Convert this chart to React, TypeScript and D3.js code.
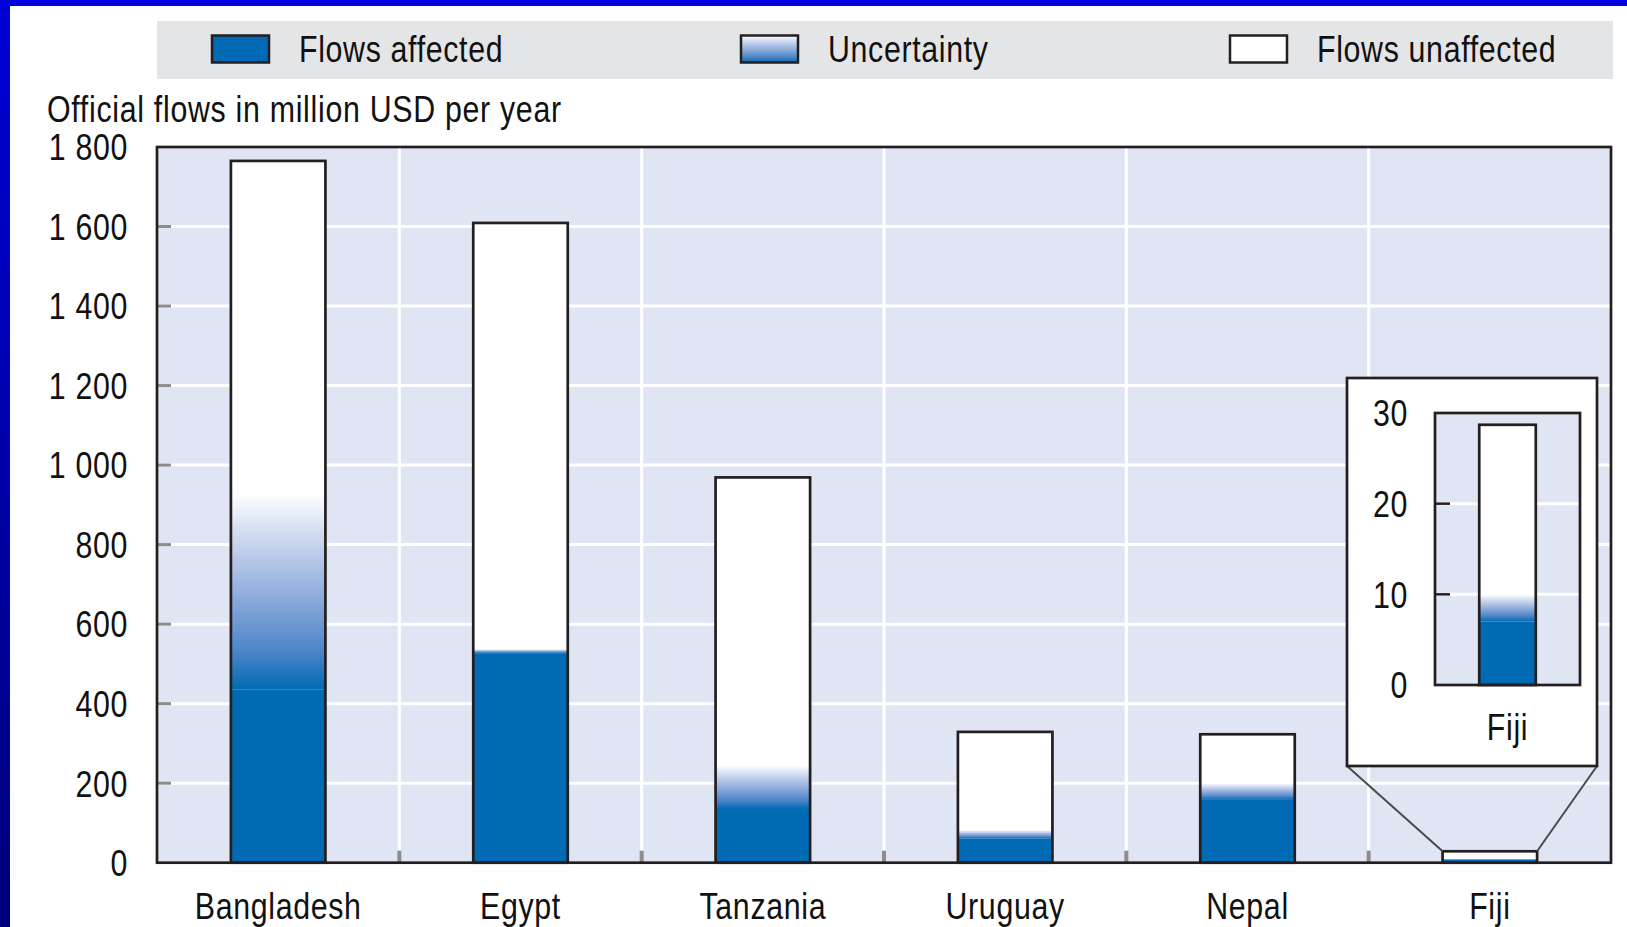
import React from "react";
import * as d3 from "d3";

const categories = ["Bangladesh", "Egypt", "Tanzania", "Uruguay", "Nepal", "Fiji"];
const flowsAffected = [435, 527, 135, 61, 158, 7];
const uncertainty = [495, 10, 110, 21, 42, 3];
const totalFlows = [1765, 1609, 969, 329, 323, 28.7];
const yTicks = [0, 200, 400, 600, 800, 1000, 1200, 1400, 1600, 1800];
const insetCategory = "Fiji";
const insetTicks = [0, 10, 20, 30];
const legendItems = ["Flows affected", "Uncertainty", "Flows unaffected"];
const yTitle = "Official flows in million USD per year";

const W = 1627;
const H = 927;
const FONT = "'Liberation Sans', Arimo, Arial, sans-serif";
const BLUE = "#006ab4";
const BG = "#dfe5f2";
const INK = "#231f20";
const NARROW = 0.82;

const fmt = d3.formatLocale({ decimal: ".", thousands: " ", grouping: [3], currency: ["", ""] }).format(",");

function Txt(props: {
  x: number;
  y: number;
  anchor?: string;
  dy?: string;
  size?: number;
  spacing?: number;
  children: React.ReactNode;
}) {
  const { x, y, anchor = "start", dy, size = 37, spacing = 0.8, children } = props;
  return (
    <text
      transform={`translate(${x},${y}) scale(${NARROW},1)`}
      textAnchor={anchor}
      dy={dy}
      fontSize={size}
      letterSpacing={spacing}
      fill="#111"
    >
      {children}
    </text>
  );
}

export default function App() {
  const plot = { left: 157, right: 1611, top: 147, bottom: 862.7 };
  const x = d3.scaleBand<string>().domain(categories).range([plot.left, plot.right]).paddingInner(0.61).paddingOuter(0.305);
  const y = d3.scaleLinear().domain([0, 1800]).range([plot.bottom, plot.top]);
  const step = x.step();
  const boundaries = categories.slice(1).map((c) => (x(c) as number) - (step - x.bandwidth()) / 2);

  const inset = { left: 1435, right: 1580, top: 413, bottom: 685 };
  const box = { left: 1347, right: 1597, top: 378, bottom: 766 };
  const xi = d3.scaleBand<string>().domain([insetCategory]).range([inset.left, inset.right]).paddingInner(0.61).paddingOuter(0.305);
  const yi = d3.scaleLinear().domain([0, 30]).range([inset.bottom, inset.top]);
  const fijiIdx = categories.indexOf(insetCategory);

  const bar = (
    key: string,
    bx: number,
    bw: number,
    ys: d3.ScaleLinear<number, number>,
    aff: number,
    unc: number,
    tot: number
  ) => (
    <g key={key}>
      <rect x={bx} y={ys(tot)} width={bw} height={ys(0) - ys(tot)} fill="#ffffff" />
      <rect x={bx} y={ys(aff + unc)} width={bw} height={ys(aff) - ys(aff + unc)} fill="url(#unc)" />
      <rect x={bx} y={ys(aff)} width={bw} height={ys(0) - ys(aff)} fill={BLUE} />
      <rect x={bx} y={ys(tot)} width={bw} height={ys(0) - ys(tot)} fill="none" stroke={INK} strokeWidth={2.7} />
    </g>
  );

  const legendX = [212, 741, 1230];

  return (
    <svg width={W} height={H} style={{ position: "absolute", left: 0, top: 0, background: "#fff" }} fontFamily={FONT}>
      <defs>
        <linearGradient id="unc" x1="0" y1="1" x2="0" y2="0">
          <stop offset="0" stopColor={BLUE} />
          <stop offset="0.2" stopColor="#4d86c8" />
          <stop offset="0.5" stopColor="#93afdd" />
          <stop offset="0.8" stopColor="#d3ddf1" />
          <stop offset="1" stopColor="#ffffff" />
        </linearGradient>
        <linearGradient id="frameL" x1="0" y1="0" x2="0" y2="1">
          <stop offset="0" stopColor="#0000d8" />
          <stop offset="1" stopColor="#00007a" />
        </linearGradient>
      </defs>

      {/* frame */}
      <rect x={0} y={0} width={W} height={6} fill="#0000e0" />
      <rect x={0} y={0} width={10} height={H} fill="url(#frameL)" />

      {/* legend */}
      <rect x={157} y={21} width={1456} height={58} fill="#e4e5e7" />
      {legendItems.map((t, i) => (
        <g key={t}>
          <rect
            x={legendX[i]}
            y={35.5}
            width={57}
            height={27}
            fill={i === 0 ? BLUE : i === 1 ? "url(#unc)" : "#ffffff"}
            stroke={INK}
            strokeWidth={2.5}
          />
          <Txt x={legendX[i] + 87} y={61.5}>
            {t}
          </Txt>
        </g>
      ))}

      {/* y title */}
      <Txt x={47} y={122} spacing={0.85}>
        {yTitle}
      </Txt>

      {/* plot background */}
      <rect x={plot.left} y={plot.top} width={plot.right - plot.left} height={plot.bottom - plot.top} fill={BG} />
      {yTicks.slice(1, -1).map((t) => (
        <line key={"g" + t} x1={plot.left} x2={plot.right} y1={y(t)} y2={y(t)} stroke="#fff" strokeWidth={3} />
      ))}
      {boundaries.map((b, i) => (
        <line key={"v" + i} x1={b} x2={b} y1={plot.top} y2={plot.bottom} stroke="#fff" strokeWidth={3} />
      ))}
      {yTicks.slice(1, -1).map((t) => (
        <line key={"t" + t} x1={plot.left} x2={plot.left + 14} y1={y(t)} y2={y(t)} stroke="#8c8c8c" strokeWidth={3} />
      ))}
      {boundaries.map((b, i) => (
        <line key={"xt" + i} x1={b} x2={b} y1={plot.bottom} y2={plot.bottom - 12} stroke="#8c8c8c" strokeWidth={4} />
      ))}

      {/* bars */}
      {categories.map((c, i) =>
        bar(c, x(c) as number, x.bandwidth(), y, flowsAffected[i], uncertainty[i], totalFlows[i])
      )}

      {/* plot frame */}
      <rect x={plot.left} y={plot.top} width={plot.right - plot.left} height={plot.bottom - plot.top} fill="none" stroke={INK} strokeWidth={2.7} />

      {/* y tick labels */}
      {yTicks.map((t) => (
        <Txt key={"l" + t} x={128} y={y(t)} dy="0.36em" anchor="end">
          {fmt(t)}
        </Txt>
      ))}

      {/* category labels */}
      {categories.map((c) => (
        <Txt key={"c" + c} x={(x(c) as number) + x.bandwidth() / 2} y={919} anchor="middle">
          {c}
        </Txt>
      ))}

      {/* inset connectors */}
      <line x1={box.left} y1={box.bottom} x2={x(insetCategory) as number} y2={y(totalFlows[fijiIdx])} stroke="#4a4a4a" strokeWidth={2} />
      <line
        x1={box.right}
        y1={box.bottom}
        x2={(x(insetCategory) as number) + x.bandwidth()}
        y2={y(totalFlows[fijiIdx])}
        stroke="#4a4a4a"
        strokeWidth={2}
      />

      {/* inset */}
      <rect x={box.left} y={box.top} width={box.right - box.left} height={box.bottom - box.top} fill="#fff" stroke={INK} strokeWidth={2.7} />
      <rect x={inset.left} y={inset.top} width={inset.right - inset.left} height={inset.bottom - inset.top} fill={BG} />
      {insetTicks.slice(1, -1).map((t) => (
        <line key={"ig" + t} x1={inset.left} x2={inset.right} y1={yi(t)} y2={yi(t)} stroke="#fff" strokeWidth={3} />
      ))}
      {insetTicks.slice(1, -1).map((t) => (
        <line key={"it" + t} x1={inset.left} x2={inset.left + 15} y1={yi(t)} y2={yi(t)} stroke={INK} strokeWidth={2.5} />
      ))}
      {bar("inset", xi(insetCategory) as number, xi.bandwidth(), yi, flowsAffected[fijiIdx], uncertainty[fijiIdx], totalFlows[fijiIdx])}
      <rect x={inset.left} y={inset.top} width={inset.right - inset.left} height={inset.bottom - inset.top} fill="none" stroke={INK} strokeWidth={2.7} />
      {insetTicks.map((t) => (
        <Txt key={"il" + t} x={1408} y={yi(t)} dy="0.36em" anchor="end">
          {t}
        </Txt>
      ))}
      <Txt x={(xi(insetCategory) as number) + xi.bandwidth() / 2} y={740} anchor="middle">
        {insetCategory}
      </Txt>
    </svg>
  );
}
